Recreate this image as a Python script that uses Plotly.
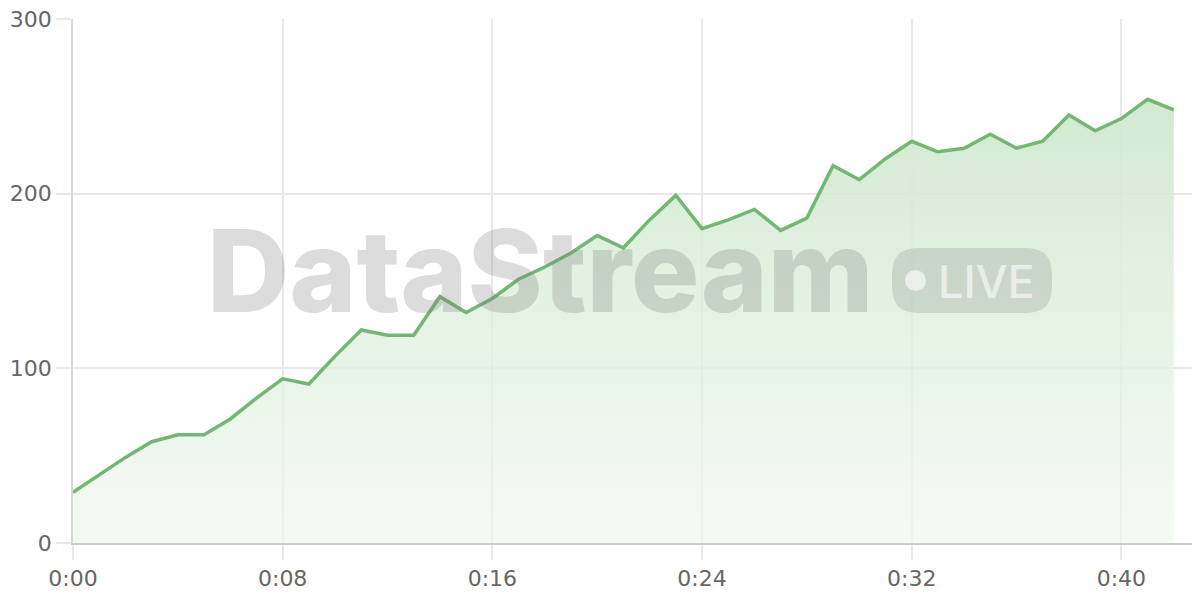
import plotly.graph_objects as go

minutes = list(range(43))
values = [29, 39, 49, 58, 62, 62, 71, 83, 94, 91, 107, 122, 119, 119, 141, 132, 140, 151,
          158, 166, 176, 169, 185, 199, 180, 185, 191, 179, 186, 216, 208, 220, 230, 224,
          226, 234, 226, 230, 245, 236, 243, 254, 248]
tick_vals = [0, 8, 16, 24, 32, 40]
tick_text = ["0:00", "0:08", "0:16", "0:24", "0:32", "0:40"]
y_ticks = [0, 100, 200, 300]

# page body has an 8px margin; compensate so the plot area lands at screen 73.. x 19..543
OFF = 8
W, H = 1200 - 2 * OFF, 600 - 2 * OFF
SL, ST, SR, SB = 73, 19, 1200 - OFF, 543  # plot area in screen pixels
L, T = SL - OFF, ST - OFF
R = W - (SR - OFF)
B = H - (SB - OFF)
PW, PH = SR - SL, SB - ST
X_MAX = 43 * PW / 1127  # keep the reference's horizontal scale (1127 px for 43 minutes)

def px(x):
    return (x - SL) / PW

def py(y):
    return (SB - y) / PH

fig = go.Figure()
fig.add_trace(go.Scatter(
    x=minutes, y=values, mode="lines",
    line=dict(color="#72b872", width=3.5),
    fill="tozeroy",
    fillgradient=dict(type="vertical",
                      colorscale=[[0, "rgba(240,248,239,0.7)"], [1, "rgba(208,232,206,0.95)"]]),
    hoverinfo="skip", showlegend=False,
))

# watermark
fig.add_annotation(x=px(540), y=py(270), xref="paper", yref="paper", text="DataStream",
                   showarrow=False, font=dict(family="Inter", size=114, weight=800,
                                              color="rgba(120,120,120,0.26)"),
                   xanchor="center", yanchor="middle")

# badge rounded rect
x0, x1, y0, y1, r = 892, 1052, 248, 313, 26
def P(x, y):
    return f"{px(x):.5f},{py(y):.5f}"
path = (f"M {P(x0+r, y0)} L {P(x1-r, y0)} Q {P(x1, y0)} {P(x1, y0+r)} "
        f"L {P(x1, y1-r)} Q {P(x1, y1)} {P(x1-r, y1)} L {P(x0+r, y1)} "
        f"Q {P(x0, y1)} {P(x0, y1-r)} L {P(x0, y0+r)} Q {P(x0, y0)} {P(x0+r, y0)} Z")
fig.add_shape(type="path", path=path, xref="paper", yref="paper", layer="above",
              fillcolor="rgba(120,120,120,0.22)", line=dict(width=0))
fig.add_shape(type="circle", xref="paper", yref="paper", layer="above",
              x0=px(905), x1=px(926), y0=py(291), y1=py(270),
              fillcolor="rgba(255,255,255,0.6)", line=dict(width=0))
fig.add_annotation(x=px(986), y=py(281), xref="paper", yref="paper", text="LIVE",
                   showarrow=False, font=dict(family="Inter", size=45, weight=500,
                                              color="rgba(255,255,255,0.6)"),
                   xanchor="center", yanchor="middle")

fig.update_layout(
    width=W, height=H, margin=dict(l=L, r=R, t=T, b=B, autoexpand=False),
    paper_bgcolor="white", plot_bgcolor="white",
    font=dict(family="DejaVu Sans", color="#666666", size=22),
)
fig.update_xaxes(range=[0, X_MAX], tickvals=tick_vals, ticktext=tick_text,
                 showgrid=True, gridcolor="#e8e8e8", gridwidth=1.5,
                 showline=True, linecolor="#cccccc", linewidth=2,
                 ticks="outside", ticklen=15, tickcolor="#e8e8e8", tickwidth=1.5,
                 zeroline=False, automargin=False, ticklabeloverflow="allow",
                 tickfont=dict(family="DejaVu Sans", size=22, color="#666666"))
fig.update_yaxes(range=[0, 300], tickvals=y_ticks,
                 showgrid=True, gridcolor="#e8e8e8", gridwidth=1.5,
                 showline=True, linecolor="#d8d8d8", linewidth=1.5,
                 ticks="outside", ticklen=15, tickcolor="#e8e8e8", tickwidth=1.5,
                 zeroline=False, automargin=False, ticklabeloverflow="allow",
                 tickfont=dict(family="DejaVu Sans", size=22, color="#666666"))

fig.write_html("out.html")
